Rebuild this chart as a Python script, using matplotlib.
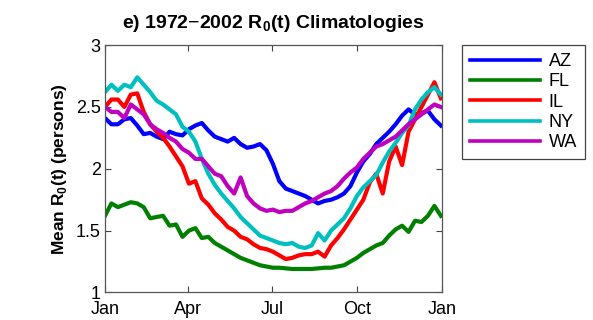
import numpy as np
import matplotlib
matplotlib.use('Agg')
import matplotlib.pyplot as plt

plt.rcParams['font.family'] = ['Liberation Sans', 'DejaVu Sans']
plt.rcParams['mathtext.fontset'] = 'custom'
plt.rcParams['mathtext.rm'] = 'Liberation Sans'
plt.rcParams['mathtext.bf'] = 'Liberation Sans:bold'

# day of year, sampled weekly
days = np.arange(1, 366, 7)

az = [2.41, 2.36, 2.36, 2.40, 2.41, 2.35, 2.28, 2.29, 2.26, 2.24, 2.30, 2.28, 2.27,
      2.32, 2.35, 2.37, 2.31, 2.26, 2.24, 2.22, 2.25, 2.20, 2.17, 2.18, 2.20, 2.15,
      2.04, 1.90, 1.84, 1.82, 1.80, 1.78, 1.75, 1.72, 1.74, 1.75, 1.77, 1.80, 1.86,
      1.97, 2.06, 2.12, 2.20, 2.25, 2.30, 2.36, 2.43, 2.48, 2.44, 2.45, 2.47, 2.40, 2.35]
fl = [1.62, 1.72, 1.69, 1.71, 1.73, 1.72, 1.69, 1.60, 1.61, 1.62, 1.54, 1.55, 1.45,
      1.50, 1.52, 1.44, 1.45, 1.40, 1.37, 1.34, 1.31, 1.28, 1.26, 1.24, 1.22, 1.21,
      1.20, 1.20, 1.195, 1.19, 1.19, 1.19, 1.19, 1.195, 1.20, 1.20, 1.21, 1.22, 1.25,
      1.28, 1.32, 1.35, 1.38, 1.40, 1.46, 1.51, 1.54, 1.49, 1.58, 1.57, 1.62, 1.70, 1.62]
il = [2.50, 2.56, 2.56, 2.50, 2.60, 2.61, 2.46, 2.36, 2.30, 2.25, 2.18, 2.10, 2.02,
      1.88, 1.90, 1.76, 1.71, 1.64, 1.59, 1.53, 1.50, 1.45, 1.43, 1.39, 1.36, 1.35,
      1.33, 1.30, 1.27, 1.28, 1.30, 1.31, 1.31, 1.33, 1.29, 1.38, 1.44, 1.51, 1.59,
      1.67, 1.75, 1.89, 1.96, 1.80, 2.06, 2.18, 2.03, 2.30, 2.40, 2.50, 2.60, 2.70, 2.57]
ny = [2.62, 2.68, 2.63, 2.68, 2.66, 2.74, 2.68, 2.62, 2.55, 2.52, 2.48, 2.44, 2.34,
      2.30, 2.22, 2.08, 1.96, 1.87, 1.80, 1.74, 1.68, 1.61, 1.56, 1.51, 1.46, 1.44,
      1.42, 1.40, 1.39, 1.40, 1.37, 1.36, 1.38, 1.48, 1.42, 1.50, 1.55, 1.60, 1.68,
      1.78, 1.85, 1.90, 1.95, 2.05, 2.14, 2.21, 2.29, 2.35, 2.48, 2.56, 2.62, 2.66, 2.60]
wa = [2.50, 2.46, 2.46, 2.41, 2.52, 2.48, 2.44, 2.36, 2.32, 2.29, 2.25, 2.22, 2.16,
      2.13, 2.08, 2.08, 2.02, 1.96, 1.94, 1.86, 1.80, 1.93, 1.78, 1.72, 1.68, 1.66,
      1.67, 1.65, 1.66, 1.66, 1.69, 1.72, 1.74, 1.77, 1.80, 1.82, 1.86, 1.92, 1.97,
      2.01, 2.08, 2.13, 2.18, 2.20, 2.23, 2.26, 2.31, 2.36, 2.40, 2.44, 2.48, 2.52, 2.50]

states = ['AZ', 'FL', 'IL', 'NY', 'WA']
series = [az, fl, il, ny, wa]
colors = ['#0000ff', '#008000', '#ff0000', '#00bfbf', '#bf00bf']

month_days = [1, 91, 182, 274, 366]
month_labels = ['Jan', 'Apr', 'Jul', 'Oct', 'Jan']
y_ticks = [1, 1.5, 2, 2.5, 3]
y_labels = ['1', '1.5', '2', '2.5', '3']

fig = plt.figure(figsize=(5.93, 3.2), dpi=100)
ax = fig.add_axes([0.177, 0.086, 0.568, 0.773])

lines = []
for name, vals, c in zip(states, series, colors):
    ln, = ax.plot(days, vals, color=c, linewidth=3.0, label=name)
    lines.append(ln)

ax.set_xlim(1, 366)
ax.set_ylim(1, 3)
ax.set_xticks(month_days)
ax.set_xticklabels(month_labels, fontsize=13)
ax.set_yticks(y_ticks)
ax.set_yticklabels(y_labels, fontsize=13)
ax.tick_params(direction='in', length=4, top=True, right=True, color='#444444')
ax.tick_params(axis='x', pad=6)
ax.tick_params(axis='y', pad=3)
for sp in ax.spines.values():
    sp.set_color('#555555')
    sp.set_linewidth(0.9)

ax.set_title(r'e) 1972$-$2002 R$_\mathbf{0}$(t) Climatologies', fontsize=14,
             fontweight='bold', pad=12)
ax.set_ylabel(r'Mean R$_\mathbf{0}$(t) (persons)', fontsize=12.5, fontweight='bold', labelpad=5)

leg = fig.legend(handles=lines, loc='upper left', bbox_to_anchor=(0.779, 0.859),
                 borderaxespad=0, fontsize=13, handlelength=3.9, labelspacing=0.18,
                 borderpad=0.45, handletextpad=0.45, fancybox=False,
                 edgecolor='#444444', framealpha=1)
leg.get_frame().set_linewidth(0.9)
for h in leg.legend_handles:
    h.set_linewidth(2.6)

fig.savefig('out.png', dpi=100)
